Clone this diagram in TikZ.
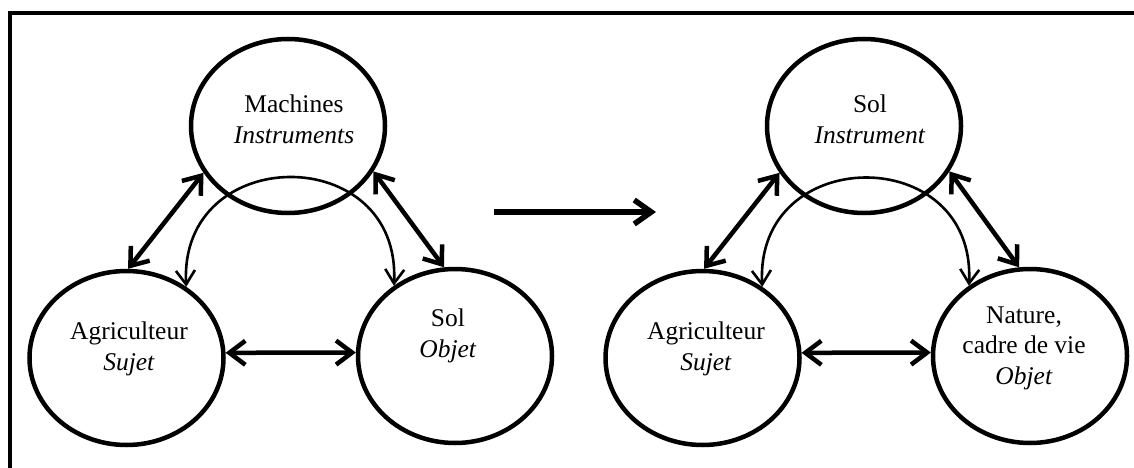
\documentclass[tikz,border=0pt]{standalone}
\usepackage{fontspec}
\setmainfont{Liberation Serif}
\usetikzlibrary{shapes.geometric,arrows.meta}
\begin{document}
\begin{tikzpicture}[x=1pt,y=-1pt,
  bubble/.style={ellipse, draw, line width=4.5pt, minimum width=194pt, minimum height=174pt, inner sep=0pt},
  lbl/.style={align=center, anchor=base, font=\fontsize{25.5}{30.5}\selectfont, inner sep=0pt},
  link/.style={line width=4.5pt, {Straight Barb[length=16pt,width=24pt]}-{Straight Barb[length=16pt,width=24pt]}},
  arcl/.style={line width=2.6pt, {Straight Barb[length=14pt,width=19pt]}-{Straight Barb[length=14pt,width=19pt]}},
  bigarrow/.style={line width=5.5pt, -{Straight Barb[length=17pt,width=24pt]}},
  frameline/.style={line width=4.5pt}]
\useasboundingbox (0,0) rectangle (1134,468);
\draw[frameline] (10,470) -- (10,13) -- (1136,13);
% left diagram
\node[bubble] (mach) at (288,126) {};
\node[bubble] (agrA) at (126.5,358) {};
\node[bubble] (solA) at (455,356) {};
\node[lbl] (machT) at (294,143) {Machines\\\textit{Instruments}};
\node[lbl] (agrAT) at (129,370) {Agriculteur\\\textit{Sujet}};
\node[lbl] (solAT) at (448,357) {Sol\\\textit{Objet}};
\draw[link] (mach.209) -- (agrA.89);
\draw[link] (mach.332) -- (solA.97);
\draw[link] (agrA.3) -- (solA.178);
\draw[arcl] (agrA.50) to[out=93,in=87,looseness=1.78] (solA.131);
% big arrow
\coordinate (bs) at (494,212);
\coordinate (be) at (656,212);
\draw[bigarrow] (bs) -- (be);
% right diagram
\node[bubble] (solB) at (864,126) {};
\node[bubble] (agrB) at (702.5,358) {};
\node[bubble] (nat) at (1030,356) {};
\node[lbl] (solBT) at (870,143) {Sol\\\textit{Instrument}};
\node[lbl] (agrBT) at (706,370) {Agriculteur\\\textit{Sujet}};
\node[lbl] (natT) at (1024,384) {Nature,\\cadre de vie\\\textit{Objet}};
\draw[link] (solB.209) -- (agrB.89);
\draw[link] (solB.332) -- (nat.97);
\draw[link] (agrB.3) -- (nat.178);
\draw[arcl] (agrB.50) to[out=93,in=87,looseness=1.78] (nat.131);
\end{tikzpicture}
\end{document}
